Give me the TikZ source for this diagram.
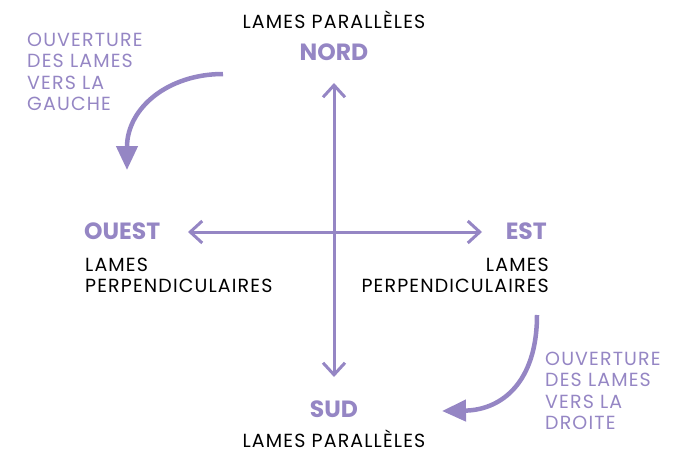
\documentclass[tikz,border=0pt]{standalone}
\usepackage{fontspec}
\setmainfont{Poppins}
\newfontfamily\espace[LetterSpace=6]{Poppins}
\usetikzlibrary{arrows.meta, positioning}
\definecolor{lavande}{HTML}{9586C4}

\begin{document}
\begin{tikzpicture}[
  x=1pt, y=-1pt,
  point/.style={font=\fontsize{23.5}{24}\selectfont\bfseries, text=lavande, inner sep=0pt},
  lames/.style={font=\fontsize{19}{21}\espace, inner sep=0pt},
  note/.style={font=\fontsize{19}{21.3}\espace, text=lavande, inner sep=0pt, align=left},
  axe/.style={{Straight Barb[length=12pt, width=22pt]}-{Straight Barb[length=12pt, width=22pt]},
              line width=3pt, draw=lavande},
  sens/.style={-{Triangle[length=24pt, width=21pt]}, line width=4.5pt, draw=lavande}
]
\useasboundingbox (0,0) rectangle (694,452);
% points cardinaux
\node[point, anchor=base] (nord) at (334,61) {NORD};
\node[point, anchor=base] (sud) at (334,417) {SUD};
\node[point, anchor=base west] (ouest) at (84,239) {OUEST};
\node[point, anchor=base east] (est) at (547,239) {EST};
\node[lames, anchor=base] (lnord) at (334,29) {LAMES PARALLÈLES};
\node[lames, anchor=base] (lsud) at (334,447) {LAMES PARALLÈLES};
\node[lames, anchor=north west, align=left] (louest) at (85,258)
  {LAMES\\PERPENDICULAIRES};
\node[lames, anchor=north east, align=right] (lest) at (549,258)
  {LAMES\\PERPENDICULAIRES};
% axes
\coordinate (pn) at (334,83);
\coordinate (ps) at (334,377);
\coordinate (po) at (188,232);
\coordinate (pe) at (482,232);
\draw[axe] (ps) -- (pn);
\draw[axe] (po) -- (pe);
% sens d'ouverture
\node[note, anchor=north west] (ng) at (27,33) {OUVERTURE\\DES LAMES\\VERS LA\\GAUCHE};
\node[note, anchor=north west] (nd) at (545,352) {OUVERTURE\\DES LAMES\\VERS LA\\DROITE};
\coordinate (dg) at (223,74);
\coordinate (fg) at (127,170);
\coordinate (dd) at (537,315);
\coordinate (fd) at (442,411);
\draw[sens] (dg) .. controls (168,74) and (127,108) .. (fg);
\draw[sens] (dd) .. controls (537,382) and (502,410) .. (fd);
\end{tikzpicture}
\end{document}
